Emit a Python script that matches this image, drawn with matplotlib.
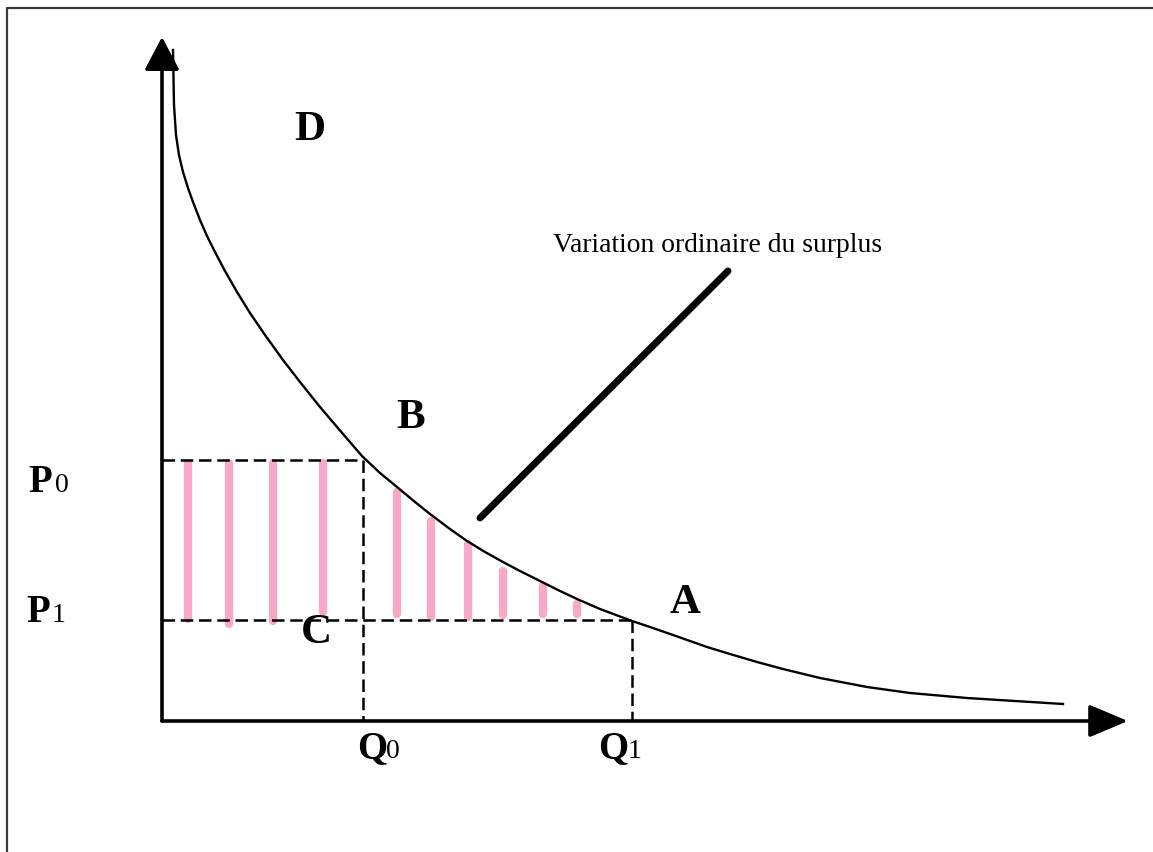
import matplotlib.pyplot as plt
from matplotlib.lines import Line2D

plt.rcParams['font.family'] = ['Liberation Serif', 'DejaVu Serif']

# demand curve (quantity, price)
curve_q = [1.1, 1.2, 1.4, 1.7, 2.1, 2.6, 3.1, 3.8, 4.5, 5.3, 6.3, 7.5, 8.8, 10.3,
           12.1, 13.8, 15.8, 18.1, 20.0, 21.8, 23.5, 25.3, 26.8, 28.8, 30.5, 32.3,
           34.1, 35.8, 37.8, 39.6, 41.5, 43.8, 47.0, 48.8, 51.1, 54.5, 56.8, 59.5,
           62.1, 65.8, 70.5, 74.8, 80.5, 85.3, 90.1]
curve_p = [67.1, 61.6, 58.6, 56.6, 54.9, 53.3, 51.9, 50.1, 48.5, 46.9, 45.0, 42.9,
           40.8, 38.6, 36.1, 33.9, 31.4, 28.7, 26.5, 24.8, 23.4, 21.9, 20.7, 19.2,
           18.0, 16.9, 15.9, 15.0, 14.0, 13.1, 12.2, 11.2, 10.0, 9.4, 8.6, 7.4, 6.7,
           5.9, 5.2, 4.3, 3.4, 2.8, 2.3, 2.0, 1.7]

q0, q1 = 20.1, 47.0
p0, p1 = 26.1, 10.1

# pink hatching of the surplus area
hatch_q = [2.6, 6.7, 11.1, 16.1, 23.5, 26.9, 30.6, 34.1, 38.1, 41.5]
hatch_top = [26.1, 26.1, 26.1, 26.1, 23.3, 20.4, 18.1, 15.4, 13.9, 12.1]
hatch_bottom = [9.9, 9.4, 9.7, 10.6, 10.4, 10.1, 10.1, 10.3, 10.4, 10.4]

# leader line towards the caption
pointer_q = [31.8, 56.6]
pointer_p = [20.3, 45.0]

fig = plt.figure(figsize=(11.53, 8.52), dpi=100)
ax = fig.add_axes([0, 0, 1, 1])
ax.set_xlim(-16.2, 99.1)
ax.set_ylim(-13.1, 72.1)
ax.axis('off')

# frame around the picture
fig.add_artist(Line2D([0.0061, 0.0061, 1.0], [0.0, 0.9906, 0.9906],
                      transform=fig.transFigure, color='#3a3a3a', lw=1.6))

# axes with arrows
ax.annotate('', xy=(0, 68.4), xytext=(0, 0),
            arrowprops=dict(arrowstyle='-|>,head_length=0.85,head_width=0.45',
                            mutation_scale=24, lw=2.6, color='black', fc='black',
                            shrinkA=0, shrinkB=0))
ax.annotate('', xy=(96.6, 0), xytext=(0, 0),
            arrowprops=dict(arrowstyle='-|>,head_length=1.0,head_width=0.42',
                            mutation_scale=24, lw=2.6, color='black', fc='black',
                            shrinkA=0, shrinkB=0))

# pink hatching
ax.vlines(hatch_q, [b + 0.35 for b in hatch_bottom], [t - 0.35 for t in hatch_top],
          colors='#f8a9c7', lw=6, capstyle='round', zorder=2)

# dashed guides
dash = dict(color='black', lw=1.8, linestyle=(0, (5, 2.3)), zorder=3)
ax.plot([0, q0], [p0, p0], **dash)
ax.plot([0, q1], [p1, p1], **dash)
ax.plot([q0, q0], [p0, 0], **dash)
ax.plot([q1, q1], [p1, 0], **dash)

# demand curve
ax.plot(curve_q, curve_p, color='black', lw=1.7, zorder=4,
        solid_joinstyle='round')

# leader line
ax.plot(pointer_q, pointer_p, color='black', lw=5, solid_capstyle='round', zorder=4)
ax.text(39.1, 46.9, 'Variation ordinaire du surplus', fontsize=19.9,
        ha='left', va='baseline')

# point labels
big = dict(fontsize=31, fontweight='bold', ha='center', va='center')
ax.text(14.8, 59.1, 'D', **big)
ax.text(24.9, 30.3, 'B', **big)
ax.text(52.3, 11.8, 'A', **big)
ax.text(15.4, 8.8, 'C', **big)

# axis labels with their indices
lab = dict(fontsize=28, fontweight='bold', ha='left', va='baseline')
sub = dict(fontsize=20, ha='left', va='baseline')
ax.text(-13.4, 22.9, 'P', **lab)
ax.text(-10.7, 22.9, '0', **sub)
ax.text(-13.6, 9.9, 'P', **lab)
ax.text(-11.0, 9.9, '1', **sub)
ax.text(19.5, -3.7, 'Q', **lab)
ax.text(22.4, -3.7, '0', **sub)
ax.text(43.6, -3.7, 'Q', **lab)
ax.text(46.6, -3.7, '1', **sub)

fig.savefig('out.png', dpi=100)
